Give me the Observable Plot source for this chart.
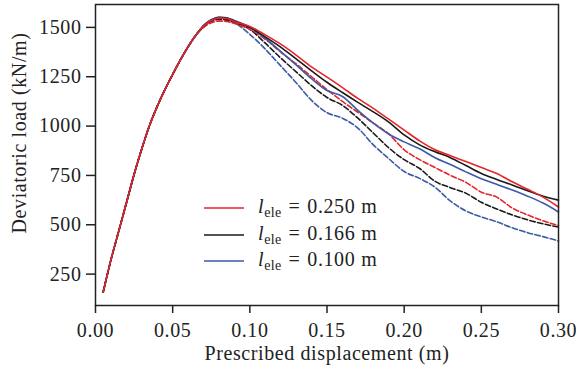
<!DOCTYPE html>
<html>
<head>
<meta charset="utf-8">
<script src="https://cdn.jsdelivr.net/npm/d3@7"></script>
<script src="https://cdn.jsdelivr.net/npm/@observablehq/plot@0.6"></script>
<style>
  html, body { margin: 0; padding: 0; background: #fff; }
  #wrap { position: relative; width: 576px; height: 374px; }
  #wrap svg text { letter-spacing: 0.6px; }
  #wrap g[aria-label="ylabel"] text { letter-spacing: 1.6px; }
  #wrap g[aria-label="xlabel"] text { letter-spacing: 0.8px; }
  .leg { position: absolute; left: 204px; font-family: "Liberation Serif", serif; font-size: 20px; color: #222; white-space: nowrap; line-height: 1; letter-spacing: 0.6px; }
  .leg svg { position: absolute; left: 0; top: 0; }
  .leg .t { position: absolute; left: 54px; top: -10px; }
  .leg sub { font-size: 14px; vertical-align: -4px; line-height: 0; letter-spacing: 0.3px; }
  .leg .eq { display: inline-block; margin: 0 7px; }
  .leg .u { margin-left: 6px; }
</style>
</head>
<body>
<div id="wrap"></div>
<script>
// Shared rising branch (all series coincide)
const xRise = [0.005, 0.010, 0.015, 0.020, 0.025, 0.030, 0.035, 0.040, 0.045, 0.050, 0.055, 0.060, 0.065];
const yRise = [160, 322, 466, 610, 755, 885, 1003, 1100, 1185, 1262, 1335, 1402, 1460];

// Post-peak branch
const xPost = [0.070, 0.075, 0.080, 0.085, 0.090, 0.10, 0.11, 0.12, 0.13, 0.14, 0.15, 0.16, 0.17, 0.18, 0.19, 0.20, 0.21, 0.22, 0.23, 0.24, 0.25, 0.26, 0.27, 0.28, 0.29, 0.30];
const red250Solid  = [1507, 1535, 1548, 1545, 1530, 1505, 1462, 1415, 1360, 1300, 1248, 1195, 1140, 1090, 1035, 980, 925, 880, 850, 820, 790, 760, 718, 680, 640, 590];
const black166Solid = [1507, 1537, 1550, 1547, 1532, 1500, 1452, 1400, 1340, 1280, 1222, 1170, 1120, 1072, 1020, 955, 905, 870, 840, 800, 760, 730, 702, 672, 645, 625];
const blue100Solid = [1509, 1539, 1552, 1549, 1535, 1500, 1445, 1378, 1310, 1240, 1180, 1150, 1080, 1015, 960, 920, 885, 840, 805, 768, 733, 705, 676, 645, 610, 565];
const red250Dash   = [1500, 1523, 1532, 1530, 1520, 1490, 1440, 1375, 1315, 1250, 1185, 1125, 1070, 1015, 960, 880, 830, 790, 750, 715, 665, 640, 585, 550, 520, 496];
const black166Dash = [1503, 1530, 1540, 1537, 1525, 1490, 1420, 1345, 1275, 1205, 1145, 1105, 1040, 965, 890, 830, 785, 720, 688, 660, 614, 580, 550, 525, 505, 488];
const blue100Dash  = [1509, 1537, 1545, 1542, 1525, 1465, 1390, 1305, 1220, 1130, 1068, 1040, 990, 905, 835, 770, 735, 690, 620, 570, 540, 515, 485, 460, 440, 418];

const xTicks = [0.00, 0.05, 0.10, 0.15, 0.20, 0.25, 0.30];
const yTicks = [250, 500, 750, 1000, 1250, 1500];
const legendLabels = ["0.250", "0.166", "0.100"];

const RED = "#e4262b", BLACK = "#1a1a1a", BLUE = "#3d5aa9";

function series(yPost) {
  const xs = xRise.concat(xPost), ys = yRise.concat(yPost);
  return xs.map((x, i) => ({x, y: ys[i]}));
}

const specs = [
  {data: series(blue100Dash), stroke: BLUE, dash: "5.5,2.4"},
  {data: series(black166Dash), stroke: BLACK, dash: "5.5,2.4"},
  {data: series(red250Dash), stroke: RED, dash: "5.5,2.4"},
  {data: series(blue100Solid), stroke: BLUE, dash: null},
  {data: series(black166Solid), stroke: BLACK, dash: null},
  {data: series(red250Solid), stroke: RED, dash: null}
];

const chart = Plot.plot({
  width: 576,
  height: 374,
  marginLeft: 95,
  marginRight: 18,
  marginTop: 4,
  marginBottom: 69,
  style: {fontFamily: "Liberation Serif, serif", fontSize: "20px", color: "#222", background: "#fff"},
  x: {domain: [0, 0.30]},
  y: {domain: [91, 1616]},
  marks: [
    ...specs.map(s => Plot.line(s.data, {x: "x", y: "y", stroke: s.stroke, strokeWidth: 1.6, strokeDasharray: s.dash, curve: "monotone-x"})),
    Plot.frame({stroke: "#222", strokeWidth: 1.5}),
    Plot.axisX({ticks: xTicks, tickFormat: d3.format(".2f"), tickSize: 8, tickPadding: 9, label: null, strokeWidth: 1.5}),
    Plot.axisY({ticks: yTicks, tickFormat: d => String(d), tickSize: 9, tickPadding: 5, label: null, strokeWidth: 1.5}),
    Plot.text(["Prescribed displacement (m)"], {frameAnchor: "bottom", textAnchor: "middle", dy: 54, fontSize: 20, fill: "#222", ariaLabel: "xlabel"}),
    Plot.text(["Deviatoric load (kN/m)"], {frameAnchor: "left", textAnchor: "middle", dx: -76, dy: -22, rotate: -90, fontSize: 20, fill: "#222", ariaLabel: "ylabel"})
  ]
});

const wrap = document.getElementById("wrap");
wrap.appendChild(chart);

const legColors = [RED, BLACK, BLUE];
const legTops = [208, 235, 261];
legendLabels.forEach((lab, i) => {
  const d = document.createElement("div");
  d.className = "leg";
  d.style.top = (legTops[i] - 2) + "px";
  d.innerHTML = `<svg width="40" height="4"><line x1="0" x2="40" y1="2" y2="2" stroke="${legColors[i]}" stroke-width="1.6"/></svg>` +
    `<span class="t"><i>l</i><sub>ele</sub><span class="eq">=</span>${lab}<span class="u">m</span></span>`;
  wrap.appendChild(d);
});
</script>
</body>
</html>
